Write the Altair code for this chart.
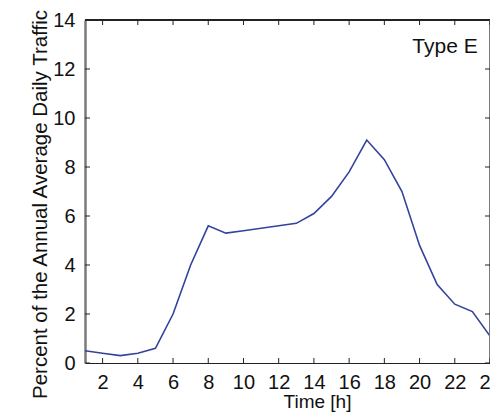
import altair as alt
import pandas as pd

hours = list(range(1, 25))
values = [0.5, 0.4, 0.3, 0.4, 0.6, 2.0, 4.0, 5.6, 5.3, 5.4, 5.5, 5.6,
          5.7, 6.1, 6.8, 7.8, 9.1, 8.3, 7.0, 4.8, 3.2, 2.4, 2.1, 1.1]
x_ticks = [2, 4, 6, 8, 10, 12, 14, 16, 18, 20, 22, 24]
y_ticks = [0, 2, 4, 6, 8, 10, 12, 14]
label_text = ["Type E"]
label_x = [23.3]
label_y = [12.67]

W, H = 405, 343
FONT = "Liberation Sans"

df = pd.DataFrame({"hour": hours, "value": values})
xt = pd.DataFrame({"t": x_ticks})
yt = pd.DataFrame({"t": y_ticks})
lab = pd.DataFrame({"text": label_text, "x": label_x, "y": label_y})

xscale = alt.Scale(domain=[1, 24], nice=False, zero=False)
yscale = alt.Scale(domain=[0, 14], nice=False)

xaxis = alt.Axis(values=x_ticks, title="Time [h]", grid=False, ticks=False,
                 tickSize=0, labelPadding=9, labelFontSize=20, labelFont=FONT,
                 labelColor="#111", titleFontSize=19, titleFont=FONT,
                 titleFontWeight="normal", titleColor="#111",
                 titleX=232, titleY=29, titleBaseline="top",
                 domainColor="#222", domainWidth=1, labelFlush=False,
                 labelOverlap=False, labelBound=False)
yaxis = alt.Axis(values=y_ticks, title="Percent of the Annual Average Daily Traffic",
                 grid=False, ticks=False, tickSize=0, labelPadding=10,
                 labelFontSize=20, labelFont=FONT, labelColor="#111",
                 titleFontSize=20.5, titleFont=FONT, titleFontWeight="normal",
                 titleColor="#111", titleX=-45, titleY=184, titleAngle=-90,
                 titleBaseline="middle", titleAlign="center", titleLimit=1000,
                 domainColor="#7a7a7a", domainWidth=2.5, labelFlush=False,
                 labelOverlap=False, labelBound=False)

line = alt.Chart(df).mark_line(color="#34439b", strokeWidth=1.6).encode(
    x=alt.X("hour:Q", scale=xscale, axis=xaxis),
    y=alt.Y("value:Q", scale=yscale, axis=yaxis),
)

bottom_ticks = alt.Chart(xt).mark_rule(color="#222", strokeWidth=1).encode(
    x=alt.X("t:Q", scale=xscale, axis=xaxis), y=alt.value(H), y2=alt.value(H - 5))
top_ticks = alt.Chart(xt).mark_rule(color="#222", strokeWidth=1).encode(
    x=alt.X("t:Q", scale=xscale, axis=xaxis), y=alt.value(0), y2=alt.value(5))
left_ticks = alt.Chart(yt).mark_rule(color="#222", strokeWidth=1).encode(
    y=alt.Y("t:Q", scale=yscale, axis=yaxis), x=alt.value(0), x2=alt.value(5))
right_ticks = alt.Chart(yt).mark_rule(color="#222", strokeWidth=1).encode(
    y=alt.Y("t:Q", scale=yscale, axis=yaxis), x=alt.value(W), x2=alt.value(W - 5))

top_border = alt.Chart(xt).mark_rule(color="#222", strokeWidth=1).encode(
    x=alt.value(0), x2=alt.value(W), y=alt.value(0))
right_border = alt.Chart(xt).mark_rule(color="#7a7a7a", strokeWidth=2).encode(
    x=alt.value(W), y=alt.value(0), y2=alt.value(H))

text = alt.Chart(lab).mark_text(align="right", baseline="alphabetic", fontSize=21,
                                font=FONT, color="#111").encode(
    x=alt.X("x:Q", scale=xscale, axis=xaxis),
    y=alt.Y("y:Q", scale=yscale, axis=yaxis), text="text:N")

chart = alt.layer(line, top_border, right_border, bottom_ticks, top_ticks, left_ticks,
                  right_ticks, text).properties(
    width=W, height=H,
    autosize=alt.AutoSizeParams(type="none"),
    padding={"left": 77, "top": 12, "right": 0, "bottom": 49},
    background="white",
).configure_view(stroke=None)

chart.save("out.html", embed_options={"renderer": "svg", "actions": False})
